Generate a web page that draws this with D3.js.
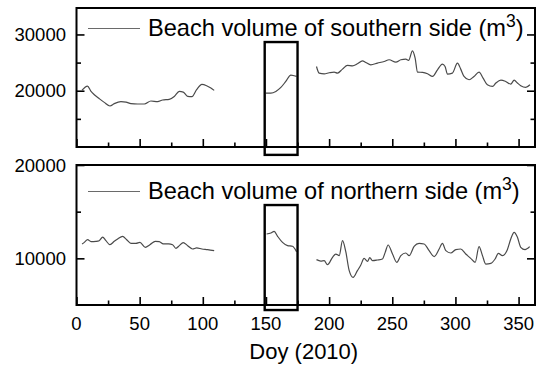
<!DOCTYPE html>
<html><head><meta charset="utf-8">
<script src="https://cdn.jsdelivr.net/npm/d3@7"></script>
<style>
html,body{margin:0;padding:0;background:#fff;}
svg{display:block;font-family:Arial,"Liberation Sans",sans-serif;}
</style></head>
<body><div id="chart"></div>
<script>
// ---------- data ----------
const southDays = [4.4,8.7,11.5,14.1,18.1,22,26.5,29.9,35.2,39.2,43.1,48.4,53.7,58.9,64.2,68.2,73.4,77.4,81.4,84.5,88,91.4,95.1,99.3,103,106.4,109,
  null,
  149.9,153.9,157.8,161.8,165.7,169.7,172.3,174.2,
  null,
  190,192.1,196.1,200,204,206.6,210.6,214.5,218.5,222.4,226.4,229,233,238.3,243.6,247.5,252.8,256.8,260.7,262.9,266,268.1,270,274,277.9,281.9,285.8,289.7,291.8,293.7,297.6,301.6,304.2,306.8,310.8,314.7,318.7,321.9,325.3,329.4,332,336,339.8,343.8,346.5,349.1,351.7,355.7,359];
const southValues = [20100,20830,19880,19290,18580,17930,17290,17700,18050,17990,17700,17640,17640,18170,18050,18350,18460,18990,19880,19760,18990,18940,20180,21120,20890,20470,20060,
  null,
  19590,19590,19880,20590,21650,22780,22660,22540,
  null,
  24310,23130,23010,23190,23310,23130,23840,24490,24430,24790,25320,25020,24610,24910,25200,25500,25080,25500,25610,25380,27090,25790,23310,23250,23010,22540,23720,24730,24310,22960,23130,24910,23840,22540,21950,22540,23310,22250,21060,20770,21360,21890,21650,21180,21890,21360,20890,20590,21060];

const northDays = [4.4,6.2,8.8,11.5,15.4,18,20.7,23.3,26.5,29.9,32.6,36.5,39.7,43.1,47.1,50.2,54.5,58.1,62.4,65.5,68.7,72.9,76.1,78.7,81.4,84.5,88,91.9,95.1,99.3,103.8,109,
  null,
  150.5,153.9,156.5,159.2,163.1,167.1,171,174.2,
  null,
  190,193.4,196.1,198.7,202.7,205.3,208,210.6,213.2,215.9,219,222.4,225.1,227.7,230.4,232.2,234.3,238.3,242.2,244.4,246.7,250.2,253.6,256.8,260.7,263.4,267.3,271.2,275.2,279.2,283.2,287.1,289.7,292.4,296.3,300.3,304.2,308.2,312.1,315.6,318.7,321.4,324,328,331.4,334,337.2,341.1,343.8,346.5,349.1,351.7,355.1,358.8];
const northValues = [11540,11710,12000,11790,11820,11890,12280,11890,11460,11820,12070,12360,12000,11610,11610,11710,11180,11460,11820,11790,11540,11540,11460,11070,11360,11680,11360,11000,11110,11000,10930,10820,
  null,
  12610,12710,12890,12360,11710,11360,11290,10710,
  null,
  9860,9710,9750,9320,10110,10460,10290,11890,10710,8680,7960,8680,9290,10000,9680,10070,9750,9820,9930,10640,11430,10460,9570,10290,10570,10290,11290,11610,11540,10820,10180,11000,11610,10820,10570,10930,11000,10460,10000,9570,11250,10290,9390,9460,9930,10540,10290,10930,12070,12780,12250,11180,10930,11250];

const xDomain = [0, 363];
const topDomain = [10000, 34700];
const bottomDomain = [5000, 20000];
const xMajorTicks = [0, 50, 100, 150, 200, 250, 300, 350];
const xMinorTicks = [25, 75, 125, 175, 225, 275, 325];
const topMajorTicks = [20000, 30000];
const topMinorTicks = [15000, 25000];
const bottomMajorTicks = [10000, 20000];
const bottomMinorTicks = [15000];
const topBox = {x0: 149, x1: 175, y0: 8600, y1: 28650};
const bottomBox = {x0: 149, x1: 175, y0: 4460, y1: 15710};
const topLabel = "Beach volume of southern side (m";
const bottomLabel = "Beach volume of northern side (m";
const xTitle = "Doy (2010)";

// ---------- drawing ----------
const W = 538, H = 369;
const svg = d3.select("#chart").append("svg").attr("width", W).attr("height", H);
const left = 76.5, right = 535;
const x = d3.scaleLinear().domain(xDomain).range([left, right]);

const panels = [
  {days: southDays, vals: southValues, domain: topDomain, range: [147, 8], major: topMajorTicks, minor: topMinorTicks, box: topBox, label: topLabel, legY: 28.5, textY: 36},
  {days: northDays, vals: northValues, domain: bottomDomain, range: [305, 165], major: bottomMajorTicks, minor: bottomMinorTicks, box: bottomBox, label: bottomLabel, legY: 191.5, textY: 199}
];

const lineColor = "#4a4a4a";

panels.forEach((p, i) => {
  const y = d3.scaleLinear().domain(p.domain).range(p.range);
  const g = svg.append("g");
  const top = p.range[1], bottom = p.range[0];

  // data line
  const pts = p.days.map((d, k) => [d, p.vals[k]]);
  const line = d3.line()
    .defined(d => d[0] !== null && d[1] !== null)
    .x(d => x(d[0])).y(d => y(d[1]))
    .curve(d3.curveMonotoneX);
  g.append("path").datum(pts).attr("d", line)
    .attr("fill", "none").attr("stroke", lineColor).attr("stroke-width", 1.2);

  // highlight box
  g.append("rect")
    .attr("x", x(p.box.x0)).attr("y", y(p.box.y1))
    .attr("width", x(p.box.x1) - x(p.box.x0))
    .attr("height", y(p.box.y0) - y(p.box.y1))
    .attr("fill", "none").attr("stroke", "#000").attr("stroke-width", 2.4);

  // axes: ticks inward
  const axL = d3.axisRight(y).tickValues(p.major).tickSize(8).tickFormat("");
  const axLm = d3.axisRight(y).tickValues(p.minor).tickSize(4.5).tickFormat("");
  const axR = d3.axisLeft(y).tickValues(p.major).tickSize(8).tickFormat("");
  const axRm = d3.axisLeft(y).tickValues(p.minor).tickSize(4.5).tickFormat("");
  const axB = d3.axisTop(x).tickValues(xMajorTicks).tickSize(8).tickFormat("");
  const axBm = d3.axisTop(x).tickValues(xMinorTicks).tickSize(4.5).tickFormat("");
  [[axL, `translate(${left},0)`], [axLm, `translate(${left},0)`],
   [axR, `translate(${right},0)`], [axRm, `translate(${right},0)`],
   [axB, `translate(0,${bottom})`], [axBm, `translate(0,${bottom})`]].forEach(([ax, tr]) => {
    const a = g.append("g").attr("transform", tr).call(ax);
    a.select(".domain").remove();
    a.selectAll("line").attr("stroke", "#000").attr("stroke-width", 1.6);
  });

  // frame
  g.append("rect").attr("x", left).attr("y", top)
    .attr("width", right - left).attr("height", bottom - top)
    .attr("fill", "none").attr("stroke", "#000").attr("stroke-width", 2);

  // y tick labels
  g.selectAll(".ylab").data(p.major).enter().append("text")
    .attr("x", 66).attr("y", d => y(d)).attr("dy", "0.36em")
    .attr("text-anchor", "end").attr("font-size", 18.5).attr("fill", "#000")
    .text(d => d);

  // legend
  g.append("line").attr("x1", 88).attr("x2", 140).attr("y1", p.legY).attr("y2", p.legY)
    .attr("stroke", "#6a6a6a").attr("stroke-width", 1.2);
  const t = g.append("text").attr("x", 148).attr("y", p.textY)
    .attr("font-size", 23.6).attr("fill", "#000");
  t.append("tspan").text(p.label);
  t.append("tspan").attr("font-size", 17.5).attr("dy", -9).text("3");
  t.append("tspan").attr("dy", 9).text(")");

  if (i === 1) {
    g.selectAll(".xlab").data(xMajorTicks).enter().append("text")
      .attr("x", d => x(d)).attr("y", 330)
      .attr("text-anchor", "middle").attr("font-size", 18.5).attr("fill", "#000")
      .text(d => d);
  }
});

svg.append("text").attr("x", (left + right) / 2 - 2).attr("y", 359)
  .attr("text-anchor", "middle").attr("font-size", 22).attr("fill", "#000")
  .text(xTitle);
</script>
</body></html>
